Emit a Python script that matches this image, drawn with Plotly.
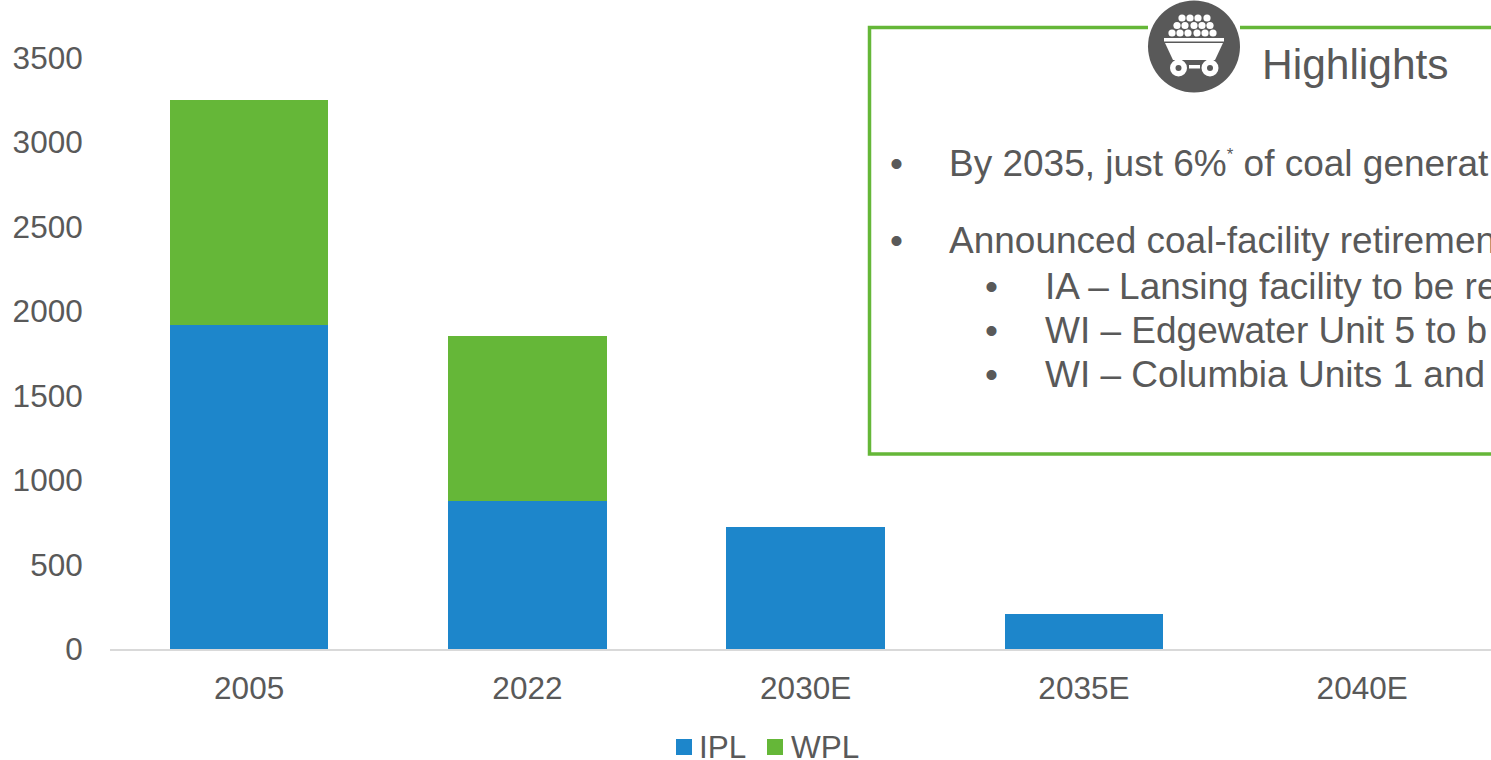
import plotly.graph_objects as go

# Coal generation capacity by utility (MW)
years = ["2005", "2022", "2030E", "2035E", "2040E"]
ipl_mw = [1920, 876, 722, 207, 0]
wpl_mw = [1330, 977, 0, 0, 0]
y_ticks = [0, 500, 1000, 1500, 2000, 2500, 3000, 3500]

headline = "Highlights"
top_bullets = [
    ('By 2035, just 6%<sup><span style="font-size:17px">*</span></sup> of coal generat', 163),
    ("Announced coal-facility retiremen", 241),
]
sub_bullets = [
    ("IA – Lansing facility to be re", 286),
    ("WI – Edgewater Unit 5 to b", 330),
    ("WI – Columbia Units 1 and", 374),
]

W, H = 1491, 760
LEFT, TOP, BOTTOM = 110, 58, 111
TEXT = "#595959"
BLUE = "#1D86CB"
GREEN = "#65B738"
FONT = "Liberation Sans"


def px(x):
    return (x - LEFT) / (W - LEFT)


def py(y):
    return 1 - (y - TOP) / (H - TOP - BOTTOM)


def circle(cx, cy, r, color):
    return dict(type="circle", xref="paper", yref="paper",
                x0=px(cx - r), x1=px(cx + r), y0=py(cy + r), y1=py(cy - r),
                fillcolor=color, line_width=0, layer="above")


def polygon(points, color):
    path = "M " + " L ".join(f"{px(x)},{py(y)}" for x, y in points) + " Z"
    return dict(type="path", xref="paper", yref="paper", path=path,
                fillcolor=color, line_width=0, layer="above")


def label(text, x, y, size):
    return dict(text=text, xref="paper", yref="paper", x=px(x), y=py(y),
                xanchor="left", yanchor="middle", showarrow=False,
                font=dict(family=FONT, size=size, color=TEXT))


fig = go.Figure()
fig.add_bar(name="IPL", x=years, y=ipl_mw, marker_color=BLUE, marker_line_width=0)
fig.add_bar(name="WPL", x=years, y=wpl_mw, marker_color=GREEN, marker_line_width=0)

# Highlights panel: open on the right, with a gap in the top edge for the badge
shapes = [
    dict(type="rect", xref="paper", yref="paper", x0=px(869.5), x1=px(1520),
         y0=py(454), y1=py(27.5), line=dict(color=GREEN, width=3.5), layer="above"),
    dict(type="rect", xref="paper", yref="paper", x0=px(1148), x1=px(1240),
         y0=py(35), y1=py(20), fillcolor="white", line_width=0, layer="above"),
    circle(1194, 46.5, 46, TEXT),
]

# Mine-cart badge: coal heap, rim, tub, wheels
for cy, xs in [
    (18, [1182, 1190, 1198, 1207]),
    (25.5, [1177, 1185, 1194, 1202, 1210]),
    (33, [1172, 1180, 1188, 1197, 1205, 1213]),
]:
    shapes += [circle(x, cy, 3.6, "white") for x in xs]
shapes += [
    polygon([(1164, 38), (1224, 38), (1224, 41.5), (1164, 41.5)], "white"),
    polygon([(1165, 43), (1223, 43), (1215, 60), (1173, 60)], "white"),
    polygon([(1189, 65), (1200, 65), (1200, 68.5), (1189, 68.5)], "white"),
]
for wheel_x in (1178.5, 1210):
    shapes += [circle(wheel_x, 68, 8.5, "white"), circle(wheel_x, 68, 3, TEXT)]

annotations = [label(headline, 1260, 64, 42.5)]
for text, y in top_bullets:
    annotations += [label("•", 888, y, 37), label(text, 947, y, 37)]
for text, y in sub_bullets:
    annotations += [label("•", 983, y, 37), label(text, 1043, y, 37)]

# Key drawn below the axis, using the series colours and names
for trace, swatch_x, text_x in [(fig.data[0], 676, 697), (fig.data[1], 767, 789)]:
    shapes.append(dict(type="rect", xref="paper", yref="paper",
                       x0=px(swatch_x), x1=px(swatch_x + 16), y0=py(755), y1=py(739),
                       fillcolor=trace.marker.color, line_width=0, layer="above"))
    annotations.append(label(trace.name, text_x, 747, 31.5))

fig.update_layout(
    width=W, height=H, barmode="stack", bargap=0.43, showlegend=False,
    margin=dict(l=LEFT, r=0, t=TOP, b=BOTTOM, pad=0),
    paper_bgcolor="white", plot_bgcolor="white",
    font=dict(family=FONT, size=31.5, color=TEXT),
    shapes=shapes, annotations=annotations,
    xaxis=dict(type="category", range=[-0.5, 4.463], showgrid=False, zeroline=False,
               showline=True, linecolor="#D9D9D9", linewidth=2,
               ticks="outside", ticklen=10, tickcolor="rgba(0,0,0,0)"),
    yaxis=dict(range=[0, 3500], tickvals=y_ticks, showgrid=False, zeroline=False,
               showline=False, ticks="outside", ticklen=20,
               tickcolor="rgba(0,0,0,0)"),
)

fig.write_html("out.html")
